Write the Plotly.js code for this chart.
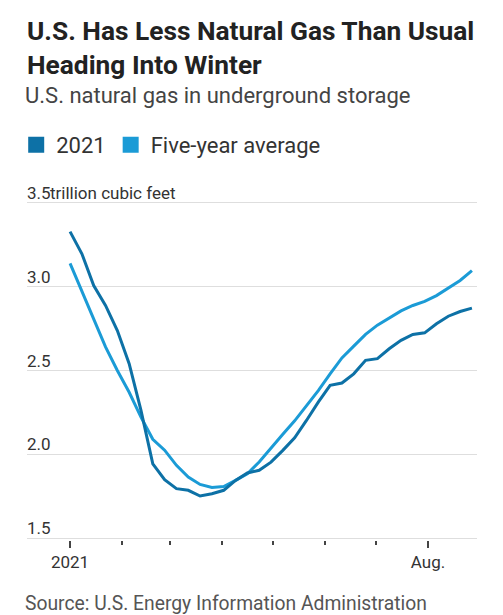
<!DOCTYPE html>
<html>
<head>
<meta charset="utf-8">
<script src="https://cdn.plot.ly/plotly-3.0.1.min.js"></script>
<style>html,body{margin:0;padding:0;background:#fff;}#chart{width:503px;height:615px;}</style>
</head>
<body>
<div id="chart"></div>
<script>
// Weekly storage, trillion cubic feet (weeks ending Fridays, 2021)
const weekStart = '2021-01-01';
const weeks = 35;
const values2021 = [3.327, 3.195, 3.006, 2.887, 2.738, 2.540, 2.262, 1.944, 1.849, 1.796,
  1.786, 1.752, 1.766, 1.786, 1.845, 1.889, 1.905, 1.954, 2.024, 2.099,
  2.202, 2.311, 2.411, 2.425, 2.480, 2.560, 2.570, 2.629, 2.679, 2.714,
  2.724, 2.778, 2.823, 2.851, 2.871];
const valuesAvg = [3.138, 2.970, 2.810, 2.640, 2.500, 2.370, 2.222, 2.090, 2.025, 1.935,
  1.865, 1.821, 1.803, 1.808, 1.845, 1.885, 1.955, 2.040, 2.120, 2.200,
  2.290, 2.380, 2.480, 2.575, 2.645, 2.715, 2.770, 2.815, 2.855, 2.887,
  2.911, 2.946, 2.992, 3.036, 3.095];
const seriesNames = ['2021', 'Five-year average'];
const yTickVals = [1.5, 2.0, 2.5, 3.0, 3.5];
const yTickText = ['1.5', '2.0', '2.5', '3.0', '3.5'];
const yUnit = 'trillion cubic feet';
const xMajorVals = ['2021-01-01', '2021-08-01'];
const xMajorText = ['2021', 'Aug.'];
const xMinorVals = ['2021-02-01', '2021-03-01', '2021-04-01', '2021-05-01', '2021-06-01', '2021-07-01'];

const dates = [];
const d0 = new Date(weekStart + 'T00:00:00Z');
for (let i = 0; i < weeks; i++) {
  const d = new Date(d0.getTime() + i * 7 * 86400000);
  dates.push(d.toISOString().slice(0, 10));
}

const DARK = '#0d71a6';
const LIGHT = '#1b9bd6';
const FONT = 'Roboto, sans-serif';
const XRANGE = ['2020-12-06 12:00', '2021-08-30'];
const YRANGE = [1.49, 3.70];
const TOP = 169, BOTTOM = 75, PH = 615 - TOP - BOTTOM;

const traces = [
  {x: dates, y: valuesAvg, type: 'scatter', mode: 'lines', line: {color: LIGHT, width: 3}, showlegend: false, hoverinfo: 'skip'},
  {x: dates, y: values2021, type: 'scatter', mode: 'lines', line: {color: DARK, width: 3}, showlegend: false, hoverinfo: 'skip'},
  {x: [null], y: [null], type: 'scatter', mode: 'markers', name: seriesNames[0], marker: {color: DARK, symbol: 'square', size: 17}},
  {x: [null], y: [null], type: 'scatter', mode: 'markers', name: seriesNames[1], marker: {color: LIGHT, symbol: 'square', size: 17}}
];

const layout = {
  width: 503, height: 615,
  margin: {l: 27, r: 26, t: TOP, b: BOTTOM},
  paper_bgcolor: '#fff', plot_bgcolor: '#fff',
  font: {family: FONT, color: '#333'},
  title: {
    text: '<b>U.S. Has Less Natural Gas Than Usual<br>Heading Into Winter</b>',
    font: {family: FONT, size: 26.3, color: '#222'},
    xref: 'container', yref: 'container', x: 27/503, xanchor: 'left', y: 1 - 40/615, yanchor: 'top'
  },
  showlegend: true,
  legend: {orientation: 'h', x: -0.024, xanchor: 'left', y: 1 + (TOP - 145) / PH, yanchor: 'middle',
    font: {family: FONT, size: 22, color: '#333'}, bgcolor: 'rgba(0,0,0,0)', itemclick: false},
  xaxis: {
    type: 'date', range: XRANGE,
    tickmode: 'array', tickvals: xMajorVals, ticktext: xMajorText,
    ticks: 'outside', ticklen: 7, tickwidth: 2, tickcolor: '#444',
    tickfont: {family: FONT, size: 17, color: '#333'},
    showgrid: false, zeroline: false, showline: false,
    minor: {tickmode: 'array', tickvals: xMinorVals, ticks: 'outside', ticklen: 4, tickwidth: 2, tickcolor: '#444', showgrid: false},
    fixedrange: true
  },
  yaxis: {
    range: YRANGE, tickmode: 'array', tickvals: yTickVals, ticktext: yTickText,
    ticklabelposition: 'inside top', ticklabelstandoff: -3, ticklabelshift: 2, ticks: '',
    tickfont: {family: FONT, size: 17, color: '#333'},
    showgrid: true, gridcolor: '#dedede', gridwidth: 1, zeroline: false, showline: false,
    fixedrange: true
  },
  annotations: [
    {text: yUnit, xref: 'paper', yref: 'y', x: 0, y: yTickVals[yTickVals.length - 1],
     xanchor: 'left', yanchor: 'bottom', showarrow: false, xshift: 21, yshift: -2, font: {family: FONT, size: 17, color: '#333'}},
    {text: 'U.S. natural gas in underground storage', xref: 'paper', yref: 'paper', x: 0, y: 1 + (TOP - 95) / PH,
     xanchor: 'left', yanchor: 'middle', showarrow: false, xshift: -4, font: {family: FONT, size: 22, color: '#444'}},
    {text: 'Source: U.S. Energy Information Administration', xref: 'paper', yref: 'paper', x: 0, y: -(603 - (615 - BOTTOM)) / PH,
     xanchor: 'left', yanchor: 'middle', showarrow: false, xshift: -4, font: {family: FONT, size: 19.3, color: '#555'}}
  ]
};

Plotly.newPlot('chart', traces, layout, {staticPlot: true, displayModeBar: false});
</script>
</body>
</html>
